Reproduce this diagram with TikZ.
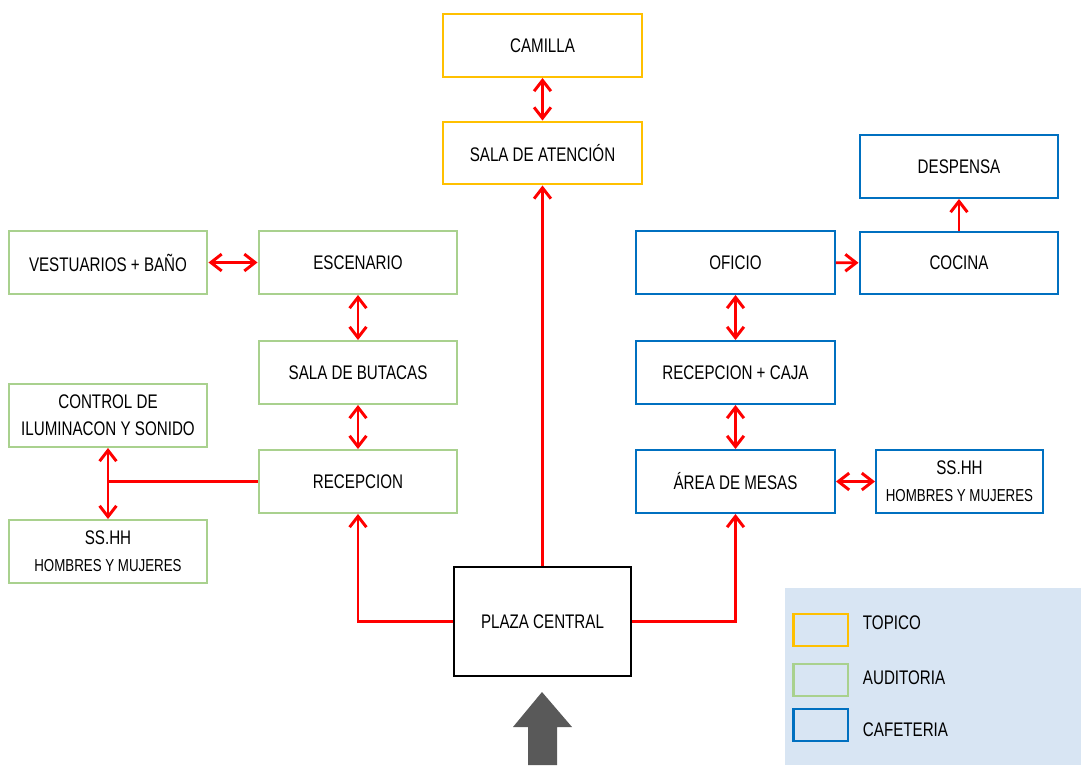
\documentclass[tikz,border=0pt]{standalone}
\usepackage{fontspec}
\setmainfont{Liberation Sans}[FakeStretch=0.77]
\usepackage{tikz}
\usetikzlibrary{positioning,arrows.meta,calc}
\definecolor{Topico}{RGB}{255,192,0}
\definecolor{Auditoria}{RGB}{169,209,142}
\definecolor{Cafeteria}{RGB}{0,112,192}
\definecolor{LegendBg}{RGB}{216,229,243}
\definecolor{ArrowGray}{RGB}{89,89,89}

\begin{document}
\begin{tikzpicture}[x=0.025cm,y=-0.025cm,
	area/.style={rectangle,draw,line width=1.5pt,minimum width=4.97cm,minimum height=1.57cm,
		align=center,inner sep=2pt,font=\fontsize{14}{19}\selectfont},
	topico/.style={area,draw=Topico},
	auditoria/.style={area,draw=Auditoria},
	cafeteria/.style={area,draw=Cafeteria},
	link/.style={draw=red,line width=2.1pt},
	onearrow/.style={link,-{Straight Barb[length=2.7mm,width=4.2mm]}},
	biarrow/.style={link,{Straight Barb[length=2.7mm,width=4.2mm]}-{Straight Barb[length=2.7mm,width=4.2mm]}},
	keybox/.style={rectangle,draw,line width=2pt,minimum width=1.37cm,minimum height=0.8cm},
	keytext/.style={anchor=west,font=\fontsize{14}{16}\selectfont}]
			\useasboundingbox (0,0) rectangle (1081,765);
			% legend
			\fill[LegendBg] (785,588) rectangle (1081,765);
			\node [keybox,draw=Topico, name = kTop] at (820.5,630) {};
			\node [keybox,draw=Auditoria, name = kAud] at (820.5,680) {};
			\node [keybox,draw=Cafeteria, name = kCaf] at (820.5,725) {};
			\node [keytext] at (858,623) {TOPICO};
			\node [keytext] at (858,678) {AUDITORIA};
			\node [keytext] at (858,730) {CAFETERIA};
			% topico
			\node [topico, name = camilla] at (542.5,45.5) {CAMILLA};
			\node [topico, name = atencion] at (542.5,153) {SALA DE ATENCI\'ON};
			% auditoria
			\node [auditoria, name = vestuarios] at (108,262.5) {VESTUARIOS + BA\~NO};
			\node [auditoria, name = escenario] at (358,262.5) {ESCENARIO};
			\node [auditoria, name = butacas] at (358,372.5) {SALA DE BUTACAS};
			\node [auditoria, name = control] at (108,415.5) {CONTROL DE\\ILUMINACON Y SONIDO};
			\node [auditoria, name = recepcion] at (358,481.5) {RECEPCION};
			\node [auditoria, name = sshhA] at (108,551.5)
				{SS.HH\\\fontsize{12.3}{17}\selectfont HOMBRES Y MUJERES};
			% cafeteria
			\node [cafeteria, name = oficio] at (735.5,262.5) {OFICIO};
			\node [cafeteria, name = cocina] at (959,263) {COCINA};
			\node [cafeteria, name = despensa] at (959,166.5) {DESPENSA};
			\node [cafeteria, name = caja] at (735.5,372.5) {RECEPCION + CAJA};
			\node [cafeteria, name = mesas] at (735.5,481.5) {\'AREA DE MESAS};
			\node [cafeteria, minimum width=4.17cm, name = sshhC] at (959.5,481.5)
				{SS.HH\\\fontsize{12.3}{17}\selectfont HOMBRES Y MUJERES};
			% plaza
			\node [area, draw=black, minimum width=4.42cm, minimum height=2.72cm, name = plaza] at (542.5,621.5) {PLAZA CENTRAL};
			\coordinate (junc) at (control.south |- recepcion.west);
			% connectors
			\draw [biarrow] (camilla) -- (atencion);
			\draw [onearrow] (plaza) -- (atencion);
			\draw [biarrow] (vestuarios) -- (escenario);
			\draw [biarrow] (escenario) -- (butacas);
			\draw [biarrow] (butacas) -- (recepcion);
			\draw [biarrow] (control) -- (sshhA);
			\draw [link] (recepcion.west) -- (junc);
			\draw [onearrow] (plaza.west) -| (recepcion.south);
			\draw [onearrow] (plaza.east) -| (mesas.south);
			\draw [onearrow] (oficio) -- (cocina);
			\draw [onearrow] (cocina) -- (despensa);
			\draw [biarrow] (oficio) -- (caja);
			\draw [biarrow] (caja) -- (mesas);
			\draw [biarrow] (mesas) -- (sshhC);
			% entrance
			\fill [ArrowGray] (542,692) -- (572,727) -- (557,727) -- (557,765)
				-- (528,765) -- (528,727) -- (513,727) -- cycle;
		\end{tikzpicture}
\end{document}
